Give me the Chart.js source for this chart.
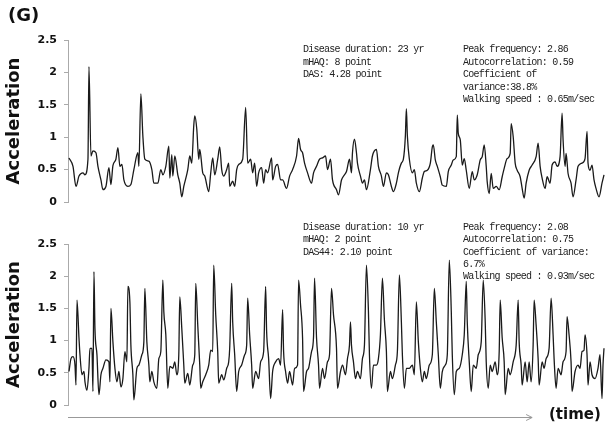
<!DOCTYPE html>
<html>
<head>
<meta charset="utf-8">
<script src="https://cdn.jsdelivr.net/npm/chart.js@4"></script>
<style>
  body { margin: 0; background: #fff; }
  #wrap { position: relative; width: 606px; height: 428px; overflow: hidden; }
  canvas { position: absolute; left: 0; }
  .lbl { position: absolute; font-family: "DejaVu Sans", sans-serif; font-weight: bold; color: #111; }
  .note { position: absolute; font-family: "Liberation Mono", monospace; font-size: 10px;
          letter-spacing: -0.75px; line-height: 12.6px; color: #222; white-space: pre; z-index: 2; }
</style>
</head>
<body>
<div id="wrap">
  <canvas id="top" width="606" height="220" style="top:0"></canvas>
  <canvas id="bottom" width="606" height="208" style="top:220px"></canvas>
  <div class="lbl" style="left:8px;top:4px;font-size:18px">(G)</div>
  <div class="lbl" style="left:549px;top:405px;font-size:15px">(time)</div>
  <div class="note" style="left:303px;top:44px">Disease duration: 23 yr
mHAQ: 8 point
DAS: 4.28 point</div>
  <div class="note" style="left:463px;top:44px">Peak frequency: 2.86
Autocorrelation: 0.59
Coefficient of
variance:38.8%
Walking speed : 0.65m/sec</div>
  <div class="note" style="left:303px;top:222px;line-height:12.3px">Disease duration: 10 yr
mHAQ: 2 point
DAS44: 2.10 point</div>
  <div class="note" style="left:463px;top:222px;line-height:12.3px">Peak frequency: 2.08
Autocorrelation: 0.75
Coefficient of variance:
6.7%
Walking speed : 0.93m/sec</div>
</div>
<script>
// patient 1 (upper trace): sample index and acceleration (G)
const topSample = [
  1,5,8,11,15,17,20,21,23,25,
  28,30,33,35,38,41,43,45,48,50,
  52,54,56,60,63,66,70,71,73,75,
  77,81,84,86,90,93,95,98,101,102,
  104,105,107,110,112,114,116,120,122,124,
  126,127,129,131,132,135,137,141,143,145,
  147,150,152,154,156,159,161,162,165,167,
  169,171,175,178,180,183,185,187,189,191,
  194,196,198,200,204,205,208,210,213,215,
  219,222,225,229,231,233,235,237,240,244,
  246,249,252,255,258,260,263,265,269,271,
  274,277,279,282,284,285,287,289,290,293,
  295,297,299,303,305,309,311,314,316,319,
  321,324,326,329,331,334,336,338,339,340,
  342,345,347,349,352,355,357,360,363,365,
  366,368,370,373,375,379,381,384,386,389,
  390,391,393,395,397,399,402,405,407,410,
  413,415,417,419,420,422,424,426,429,432,
  435,437,440,443,444,446,448,450,453,455,
  457,459,462,465,469,471,473,475,478,480,
  483,485,488,490,493,495,496,498,499,501,
  504,506,509,511,515,518,520,521,523,525,
  527,529,532,535,537
];
const topAccel = [
  0.68,0.55,0.24,0.40,0.45,0.42,0.66,2.09,0.71,0.79,
  0.76,0.55,0.34,0.19,0.24,0.53,0.27,0.56,0.66,0.84,
  0.55,0.58,0.34,0.24,0.27,0.50,0.76,0.55,1.67,1.02,
  0.66,0.63,0.50,0.29,0.29,0.50,0.42,0.55,0.86,0.37,
  0.73,0.40,0.71,0.42,0.29,0.08,0.24,0.50,0.71,0.60,
  1.18,1.33,1.13,0.66,0.81,0.45,0.40,0.16,0.45,0.68,
  0.42,0.66,0.85,0.50,0.40,0.50,0.60,0.24,0.32,0.24,
  0.50,0.58,0.66,1.46,0.60,0.66,0.45,0.60,0.24,0.45,
  0.53,0.29,0.50,0.45,0.68,0.34,0.55,0.58,0.34,0.34,
  0.21,0.40,0.50,0.71,0.98,0.81,0.76,0.60,0.45,0.29,
  0.45,0.55,0.66,0.68,0.71,0.50,0.66,0.34,0.19,0.11,
  0.34,0.42,0.47,0.66,0.45,0.76,0.97,0.76,0.60,0.40,
  0.29,0.34,0.19,0.50,0.71,0.81,0.55,0.40,0.24,0.45,
  0.42,0.24,0.16,0.29,0.45,0.60,0.66,1.02,1.44,1.02,
  0.66,0.45,0.50,0.29,0.16,0.37,0.47,0.49,0.60,0.85,
  0.88,0.65,0.55,0.39,0.26,0.24,0.47,0.57,0.65,0.70,
  1.34,1.06,0.96,0.57,0.67,0.49,0.21,0.47,0.34,0.42,
  0.65,0.70,0.88,0.55,0.31,0.13,0.44,0.21,0.24,0.19,
  0.39,0.52,0.67,0.75,1.21,1.01,0.60,0.49,0.39,0.21,
  0.06,0.29,0.49,0.57,0.70,0.91,0.55,0.37,0.21,0.39,
  0.29,0.57,0.62,0.55,0.70,1.37,0.96,0.55,0.75,0.44,
  0.29,0.08,0.34,0.55,0.60,0.67,1.09,0.60,0.49,0.57,
  0.34,0.21,0.08,0.29,0.42
];

// patient 2 (lower trace)
const botSample = [
  1,3,5,7,8,9,11,12,14,16,
  17,19,21,22,24,25,26,27,29,31,
  33,35,38,41,42,43,45,47,49,51,
  53,55,57,59,60,62,63,65,66,69,
  71,74,76,77,79,81,82,84,86,89,
  91,93,95,96,98,100,102,105,107,109,
  111,112,114,116,117,120,122,125,127,128,
  130,132,133,135,138,141,143,145,146,148,
  150,151,154,156,159,161,162,164,165,167,
  169,171,174,177,179,180,182,184,185,188,
  191,193,196,198,199,201,203,205,208,211,
  213,215,216,218,220,222,225,227,230,231,
  233,235,236,239,241,244,246,247,249,251,
  252,255,257,260,262,264,266,269,270,273,
  275,278,280,282,283,284,286,288,290,293,
  295,297,299,301,302,304,306,309,311,313,
  315,317,319,320,323,325,328,330,332,334,
  335,337,339,342,345,347,349,351,353,355,
  357,359,362,365,367,369,371,373,375,378,
  380,382,384,385,387,389,392,395,397,399,
  400,402,404,406,409,411,414,416,418,419,
  421,423,425,428,430,432,433,435,437,438,
  441,443,446,449,451,452,454,455,458,460,
  462,464,466,467,469,471,472,475,477,479,
  482,484,486,487,489,491,494,496,499,500,
  502,504,505,508,511,513,515,517,518,520,
  521,523,525,528,531,533,535,536,537
];
const botAccel = [
  0.52,0.72,0.75,0.62,0.31,1.63,1.04,0.78,0.47,0.52,
  0.36,0.23,0.57,0.88,0.88,0.21,2.07,1.19,0.78,0.16,
  0.47,0.57,0.70,0.67,0.36,1.50,0.98,0.57,0.36,0.52,
  0.28,0.41,0.83,0.67,1.84,1.60,0.93,0.47,0.08,0.57,
  0.62,0.78,0.98,1.81,0.98,0.62,0.36,0.52,0.36,0.26,
  0.72,0.83,1.94,1.45,1.09,0.26,0.60,0.57,0.67,0.47,
  0.78,1.68,1.19,0.62,0.34,0.49,0.31,0.62,0.78,1.89,
  1.24,0.62,0.26,0.36,0.47,0.62,0.85,0.83,2.17,1.40,
  0.83,0.34,0.47,0.39,0.57,0.67,0.88,1.89,1.29,0.78,
  0.21,0.52,0.62,0.78,0.93,1.66,1.09,0.62,0.26,0.52,
  0.41,0.67,0.83,1.84,1.14,0.72,0.10,0.52,0.67,0.72,
  0.62,1.48,0.83,0.52,0.34,0.52,0.31,0.57,0.62,1.94,
  1.55,1.04,0.21,0.52,0.57,0.83,1.06,1.97,1.04,0.62,
  0.26,0.57,0.41,0.67,0.78,1.81,1.40,0.88,0.26,0.52,
  0.62,0.47,0.72,0.93,1.29,0.93,0.67,0.41,0.52,0.41,
  0.72,0.93,2.17,1.45,0.78,0.26,0.62,0.62,0.72,1.09,
  1.97,1.32,0.83,0.21,0.52,0.41,0.62,0.83,2.02,1.29,
  0.78,0.26,0.57,0.57,0.62,0.47,1.60,0.98,0.57,0.36,
  0.52,0.41,0.62,0.78,1.81,1.29,0.78,0.26,0.52,0.62,
  0.78,2.25,1.45,0.78,0.16,0.52,0.57,0.78,1.09,1.92,
  1.29,0.67,0.21,0.62,0.57,0.78,0.98,1.94,1.29,0.67,
  0.26,0.62,0.52,0.67,0.47,0.83,1.63,1.04,0.67,0.16,
  0.57,0.47,0.67,0.93,1.63,0.98,0.62,0.31,0.67,0.36,
  0.67,0.36,0.93,1.63,1.24,0.72,0.31,0.67,0.57,0.72,
  0.88,1.66,1.09,0.72,0.26,0.57,0.47,0.67,0.83,1.37,
  1.09,0.67,0.21,0.52,0.62,0.57,0.83,0.85,1.09,0.78,
  0.31,0.67,0.47,0.41,0.57,0.78,0.10,0.62,0.88
];

const yTicks = [0, 0.5, 1, 1.5, 2, 2.5];
const yTickLabels = ['0', '0.5', '1', '1.5', '2', '2.5'];

function makeChart(id, samples, values, pad, extraPlugins) {
  const pts = samples.map((s, i) => ({ x: s, y: values[i] }));
  return new Chart(document.getElementById(id), {
    type: 'line',
    data: {
      datasets: [{
        data: pts,
        borderColor: '#1a1a1a',
        borderWidth: 1.3,
        pointRadius: 0,
        cubicInterpolationMode: 'monotone',
        fill: false
      }]
    },
    options: {
      responsive: false,
      animation: false,
      layout: { padding: pad },
      plugins: { legend: { display: false }, tooltip: { enabled: false } },
      scales: {
        x: { type: 'linear', min: 0, max: 538, display: false },
        y: {
          min: 0,
          max: 2.5,
          afterBuildTicks: s => { s.ticks = yTicks.map(v => ({ value: v })); },
          afterFit: s => { s.width = 68; },
          border: { display: true, color: '#aaa', width: 1 },
          grid: { drawOnChartArea: false, color: '#aaa', tickLength: 4 },
          ticks: {
            padding: 7,
            color: '#111',
            font: { family: 'DejaVu Sans', size: 11, weight: 'bold' },
            callback: (v, i) => yTickLabels[i]
          },
          title: {
            display: true,
            text: 'Acceleration',
            color: '#111',
            padding: { top: 4, bottom: 0 },
            font: { family: 'DejaVu Sans', size: 18, weight: 'bold' }
          }
        }
      }
    },
    plugins: extraPlugins || []
  });
}

// time arrow under the lower trace
const timeArrow = {
  id: 'timeArrow',
  afterDraw(chart) {
    const { ctx, chartArea } = chart;
    const y = chartArea.bottom + 12;
    const x0 = chartArea.left;
    const x1 = chart.scales.x.getPixelForValue(465);
    ctx.save();
    ctx.strokeStyle = '#999';
    ctx.lineWidth = 1;
    ctx.beginPath();
    ctx.moveTo(x0, y + 0.5);
    ctx.lineTo(x1, y + 0.5);
    ctx.moveTo(x1 - 6, y - 2.5);
    ctx.lineTo(x1, y + 0.5);
    ctx.lineTo(x1 - 6, y + 3.5);
    ctx.stroke();
    ctx.restore();
  }
};

makeChart('top', topSample, topAccel, { top: 40, bottom: 18, left: 0, right: 1 });
makeChart('bottom', botSample, botAccel, { top: 24, bottom: 23, left: 0, right: 1 }, [timeArrow]);
</script>
</body>
</html>
